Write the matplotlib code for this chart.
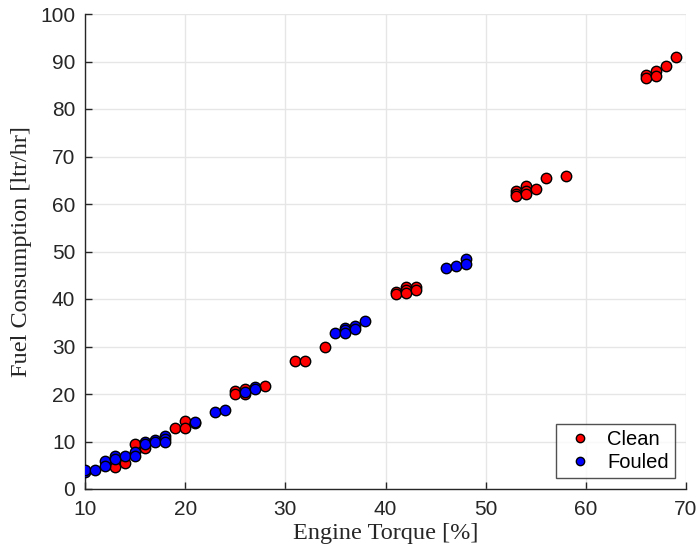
import matplotlib
matplotlib.use("Agg")
import matplotlib.pyplot as plt

clean_torque = [13, 13, 14, 15, 16, 19, 20, 20, 21, 25, 25, 26, 26, 28, 31, 32, 34,
                41, 41, 42, 42, 42, 43, 43, 53, 53, 53, 54, 54, 54, 55, 56, 58,
                66, 66, 67, 67, 68, 69]
clean_fuel = [5.2, 4.7, 5.4, 9.4, 8.6, 12.8, 14.3, 12.8, 13.8, 20.6, 20.1, 21.1, 20.1, 21.6, 27.0, 27.0, 30.0,
              41.5, 41.0, 42.6, 41.9, 41.2, 42.5, 41.8, 62.8, 62.2, 61.7, 63.7, 62.8, 62.1, 63.1, 65.5, 66.0,
              87.1, 86.6, 88.0, 87.0, 89.0, 91.0]

fouled_torque = [10, 10, 11, 12, 12, 13, 13, 14, 15, 15, 16, 16, 17, 17, 18, 18, 18,
                 21, 23, 24, 26, 27, 27, 35, 36, 36, 36, 37, 37, 38, 46, 47, 48, 48]
fouled_fuel = [3.5, 3.9, 3.9, 6.0, 4.9, 7.0, 6.4, 6.9, 7.7, 6.9, 10.0, 9.5, 10.4, 10.0, 11.2, 10.6, 10.0,
               14.2, 16.2, 16.7, 20.5, 21.5, 21.0, 32.8, 34.0, 33.4, 32.8, 34.3, 33.7, 35.3, 46.5, 47.0, 48.5, 47.4]

fig = plt.figure(figsize=(7.0, 5.58), dpi=100)
ax = fig.add_axes([85/700, 69/558, 601/700, 475/558])

ax.plot(clean_torque, clean_fuel, 'o', color='red', markeredgecolor='black',
        markeredgewidth=1.0, markersize=7.5, label='Clean', zorder=3)
ax.plot(fouled_torque, fouled_fuel, 'o', color='blue', markeredgecolor='black',
        markeredgewidth=1.0, markersize=7.5, label='Fouled', zorder=3)

ax.set_xlim(10, 70)
ax.set_ylim(0, 100)
ax.set_xticks(range(10, 71, 10))
ax.set_yticks(range(0, 101, 10))
ax.grid(True, color='#e6e6e6', linewidth=1.0, zorder=0)
ax.set_axisbelow(True)
for s in ['top', 'right']:
    ax.spines[s].set_visible(False)
for s in ['left', 'bottom']:
    ax.spines[s].set_color('#262626')
    ax.spines[s].set_linewidth(1.0)
ax.tick_params(direction='in', length=5, width=1.0, colors='#262626',
               labelsize=15)
ax.tick_params(axis='x', pad=8)
ax.tick_params(axis='y', pad=7)
for lab in ax.get_xticklabels() + ax.get_yticklabels():
    lab.set_fontfamily('Liberation Sans')

ax.set_xlabel('Engine Torque [%]', fontfamily='Liberation Serif', fontsize=17.5,
              color='#262626', labelpad=3)
ax.set_ylabel('Fuel Consumption [ltr/hr]', fontfamily='Liberation Serif', fontsize=17.5,
              color='#262626', labelpad=6)

leg = ax.legend(loc='lower right', prop={'family': 'Liberation Sans', 'size': 14.5},
                frameon=True, fancybox=False, edgecolor='#262626',
                handletextpad=0.45, borderaxespad=0.55, markerscale=0.8,
                handlelength=1.8, borderpad=0.3, labelspacing=0.2)
leg.get_frame().set_linewidth(1.0)

fig.savefig('out.png', dpi=100)
